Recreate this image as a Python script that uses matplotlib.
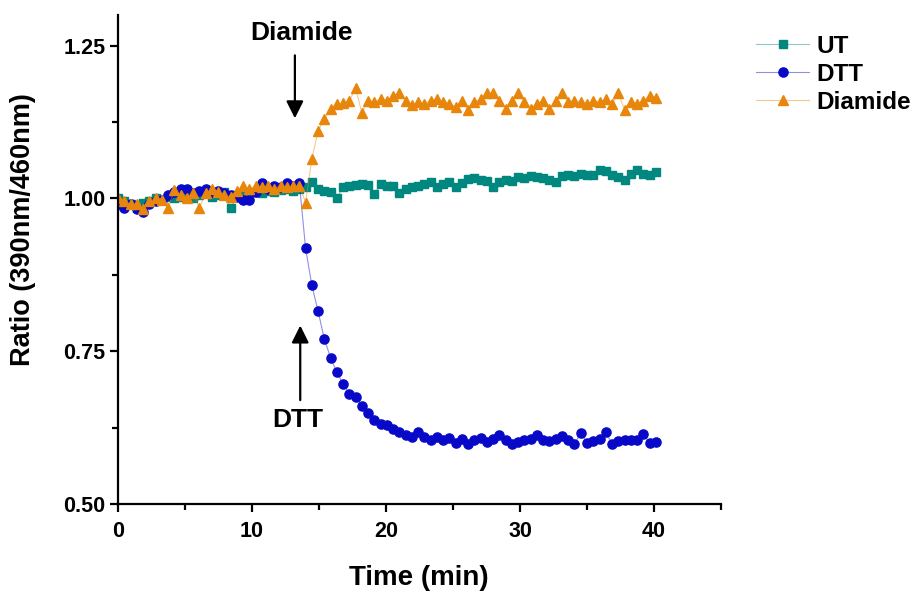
import matplotlib
matplotlib.use("Agg")
import matplotlib.pyplot as plt
import numpy as np
from matplotlib.ticker import MultipleLocator

# sampling interval of 28 s (in minutes)
time_min = np.arange(87) * 28 / 60.0

ut = [1.000, 0.995, 0.990, 0.985, 0.992, 0.995, 1.000, 0.998, 1.002, 1.000,
      1.003, 1.005, 1.000, 1.005, 1.008, 1.003, 1.006, 1.010, 0.984, 1.005,
      1.008, 1.006, 1.010, 1.008, 1.012, 1.010, 1.013, 1.015, 1.012, 1.016,
      1.018, 1.026, 1.016, 1.012, 1.010, 1.000, 1.019, 1.021, 1.022, 1.024,
      1.022, 1.007, 1.024, 1.021, 1.020, 1.008, 1.016, 1.019, 1.021, 1.024,
      1.027, 1.019, 1.024, 1.027, 1.018, 1.025, 1.032, 1.033, 1.030, 1.029,
      1.018, 1.027, 1.030, 1.029, 1.035, 1.034, 1.036, 1.035, 1.034, 1.030,
      1.027, 1.036, 1.038, 1.037, 1.040, 1.038, 1.039, 1.046, 1.045, 1.038,
      1.035, 1.030, 1.040, 1.046, 1.040, 1.038, 1.043]

dtt = [0.990, 0.985, 0.990, 0.982, 0.978, 0.990, 0.995, 0.998, 1.005, 1.010,
       1.016, 1.015, 1.008, 1.012, 1.016, 1.010, 1.012, 1.008, 1.005, 1.002,
       0.997, 0.997, 1.010, 1.025, 1.015, 1.021, 1.018, 1.025, 1.020, 1.025,
       0.918, 0.858, 0.815, 0.770, 0.739, 0.716, 0.696, 0.680, 0.675, 0.660,
       0.649, 0.637, 0.631, 0.629, 0.622, 0.618, 0.613, 0.610, 0.617, 0.610,
       0.605, 0.610, 0.605, 0.608, 0.600, 0.606, 0.598, 0.605, 0.608, 0.602,
       0.606, 0.613, 0.605, 0.598, 0.602, 0.604, 0.606, 0.613, 0.605, 0.603,
       0.607, 0.612, 0.604, 0.598, 0.616, 0.600, 0.603, 0.606, 0.618, 0.598,
       0.603, 0.604, 0.605, 0.604, 0.614, 0.600, 0.601]

diamide = [1.000, 0.996, 0.990, 0.990, 0.982, 0.995, 1.000, 0.998, 0.984, 1.013,
           1.005, 1.000, 1.008, 0.984, 1.008, 1.015, 1.010, 1.005, 1.003, 1.012,
           1.020, 1.015, 1.021, 1.018, 1.021, 1.016, 1.021, 1.018, 1.020, 1.021,
           0.993, 1.065, 1.110, 1.130, 1.147, 1.154, 1.156, 1.160, 1.180, 1.140,
           1.160, 1.158, 1.163, 1.160, 1.168, 1.172, 1.160, 1.152, 1.158, 1.155,
           1.160, 1.162, 1.157, 1.155, 1.150, 1.160, 1.145, 1.158, 1.162, 1.173,
           1.172, 1.160, 1.147, 1.160, 1.173, 1.158, 1.146, 1.155, 1.160, 1.146,
           1.160, 1.173, 1.158, 1.160, 1.158, 1.155, 1.160, 1.158, 1.162, 1.155,
           1.172, 1.145, 1.158, 1.155, 1.160, 1.168, 1.165]

series_names = ["UT", "DTT", "Diamide"]
y_tick_values = [0.50, 0.75, 1.00, 1.25]
y_tick_labels = ["0.50", "0.75", "1.00", "1.25"]

C_UT = "#00877F"
C_DTT = "#0808C8"
C_DIA = "#E8860C"

plt.rcParams['font.family'] = ['Liberation Sans', 'DejaVu Sans']
plt.rcParams['font.weight'] = 'bold'

fig = plt.figure(figsize=(9.15, 5.93), dpi=100)
ax = fig.add_axes([118/915, 1 - 504/593, (721 - 118)/915, (504 - 15)/593])

ax.plot(time_min, ut, color=C_UT, lw=0.8, marker='s', ms=6.0,
        label=series_names[0])
ax.plot(time_min, dtt, color=C_DTT, lw=0.8, marker='o', ms=6.6,
        label=series_names[1])
ax.plot(time_min, diamide, color=C_DIA, lw=0.8, marker='^', ms=7.8,
        label=series_names[2])
# faded connecting lines, solid markers
for ln in ax.lines:
    c = matplotlib.colors.to_rgba(ln.get_color())
    ln.set_color((c[0], c[1], c[2], 0.45))
    ln.set_markerfacecolor(c[:3])
    ln.set_markeredgecolor(c[:3])

ax.set_xlim(0, 45)
ax.set_ylim(0.5, 1.30)
ax.xaxis.set_major_locator(MultipleLocator(10))
ax.xaxis.set_minor_locator(MultipleLocator(5))
ax.yaxis.set_minor_locator(MultipleLocator(0.125))
ax.set_yticks(y_tick_values)
ax.set_yticklabels(y_tick_labels)

for s in ["top", "right"]:
    ax.spines[s].set_visible(False)
for s in ["left", "bottom"]:
    ax.spines[s].set_linewidth(1.6)

ax.tick_params(which='major', direction='out', length=6, width=1.6,
               labelsize=15.5)
ax.tick_params(axis='x', which='major', pad=6)
ax.tick_params(axis='y', which='major', pad=3)
ax.tick_params(which='minor', direction='out', length=4, width=1.6)
for lab in ax.get_xticklabels() + ax.get_yticklabels():
    lab.set_fontweight('bold')

ax.set_xlabel("Time (min)", fontsize=20, fontweight='bold', va='center')
ax.xaxis.set_label_coords((419 - 118) / 603, (504 - 578) / 489)
ax.set_ylabel("Ratio (390nm/460nm)", fontsize=19.5, fontweight='bold',
              va='center', ha='center')
ax.yaxis.set_label_coords((23 - 118) / 603, (504 - 230) / 489)

arrow_kw = dict(arrowstyle='-|>', color='black', lw=1.6, mutation_scale=26,
                shrinkA=0, shrinkB=0)
ax.annotate("", xy=(13.2, 1.131), xytext=(13.2, 1.234), arrowprops=arrow_kw)
ax.text(13.7, 1.271, "Diamide", ha='center', va='center', fontsize=19,
        fontweight='bold')
ax.annotate("", xy=(13.6, 0.792), xytext=(13.6, 0.670), arrowprops=arrow_kw)
ax.text(13.4, 0.637, "DTT", ha='center', va='center', fontsize=19,
        fontweight='bold')

leg = fig.legend(loc='upper left', bbox_to_anchor=(756/915, 1 - 35/593),
                 frameon=False, fontsize=17.5, handlelength=2.2,
                 handletextpad=0.3, labelspacing=0.2, borderaxespad=0,
                 borderpad=0)
for t in leg.get_texts():
    t.set_fontweight('bold')

fig.savefig("out.png", dpi=100)
